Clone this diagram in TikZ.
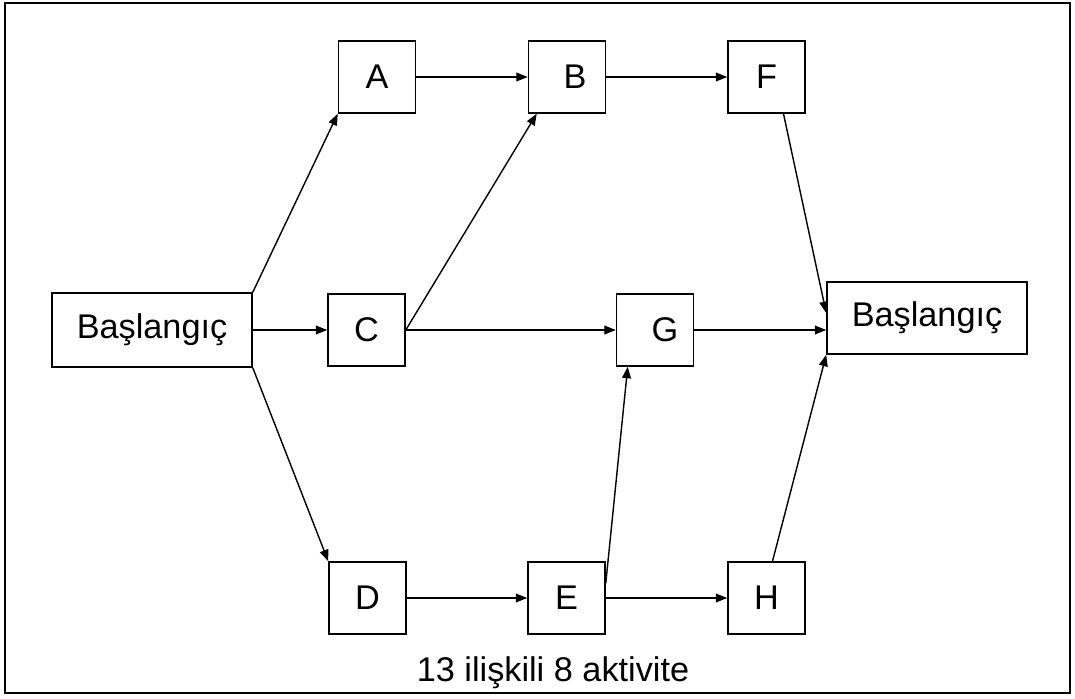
\documentclass[tikz,border=0pt]{standalone}
\usepackage{fontspec}
\setmainfont{Liberation Sans}
\usetikzlibrary{arrows.meta}

\begin{document}
\begin{tikzpicture}[>={Triangle[length=6.5pt,width=5pt]},act/.style={draw,line width=0.9pt,minimum width=1.54cm,minimum height=1.44cm,inner sep=0pt,font=\fontsize{19.5}{23}\selectfont},wide/.style={act,minimum width=4cm},link/.style={->,line width=0.8pt}]
  \useasboundingbox (0,0) rectangle (21.5,13.96);
  \draw[line width=1.1pt] (0.1,0.1) rectangle (21.4,13.9);
  \node[wide,minimum height=1.48cm] (start) at (3.04,7.36) {Başlangıç};
  \node[act] (A) at (7.54,12.42) {A};
  \node[act] (B) at (11.34,12.42) {\hspace{0.32cm}\raisebox{-0.1cm}{B}};
  \node[act] (F) at (15.33,12.42) {\raisebox{-0.1cm}{F}};
  \node[act] (C) at (7.33,7.36) {C};
  \node[act] (G) at (13.1,7.36) {\hspace{0.4cm}\raisebox{-0.1cm}{G}};
  \node[act] (D) at (7.35,2.0) {D};
  \node[act] (E) at (11.33,2.0) {E};
  \node[act] (H) at (15.33,2.0) {H};
  \node[wide] (end) at (18.54,7.6) {Başlangıç\hspace{0.48cm}};
  \node[font=\fontsize{19.5}{23}\selectfont] (note) at (11.06,0.5) {13 ilişkili 8 aktivite};
  \draw[link] (start.north east) -- (A.south west);
  \draw[link] (start.east) -- (C.west);
  \draw[link] (start.south east) -- (D.north west);
  \draw[link] (A) -- (B);
  \draw[link] (B) -- (F);
  \draw[link] (C.east) -- ([xshift=0.18cm]B.south west);
  \draw[link] (C) -- (G);
  \draw[link] (D) -- (E);
  \draw[link] (E) -- (H);
  \draw[link] ([yshift=0.3cm]E.east) -- ([xshift=0.24cm]G.south west);
  \draw[link] (G.east) -- (G.east -| end.west);
  \draw[link] ([xshift=0.34cm]F.south) -- ([yshift=0.1cm]end.west);
  \draw[link] ([xshift=0.12cm]H.north) -- (end.south west);
\end{tikzpicture}
\end{document}
